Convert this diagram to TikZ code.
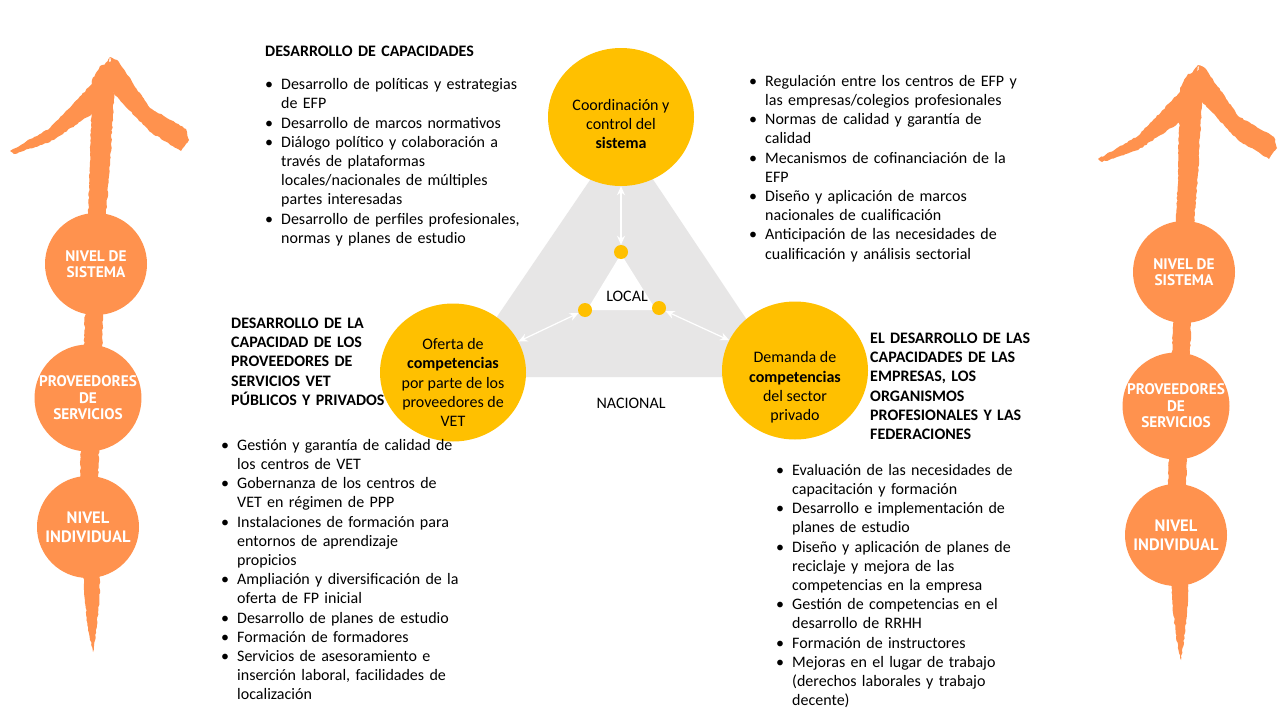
\documentclass[tikz,border=0pt]{standalone}
\usepackage{fontspec}
\setmainfont{Carlito}
\newfontfamily\levelfont{PT Sans}
\usetikzlibrary{arrows.meta,positioning,shapes.geometric,decorations.pathmorphing}
\definecolor{Gold}   {RGB}{255,192,  0}
\definecolor{Brush}  {RGB}{255,146, 78}
\definecolor{TriGray}{RGB}{231,230,230}
\newcommand{\bodysize}{\fontsize{16}{19.2}\selectfont}
\newcommand{\nl}{\hfil\break}
\newcommand{\bitem}[1]{\par\hangindent=16pt\hangafter=1\noindent
  \makebox[16pt][l]{\textbullet}\strut#1\strut\par}
\tikzset{
  actor/.style={ellipse, fill=Gold, minimum width=146pt, minimum height=138pt,
                inner sep=0pt},
  actortext/.style={align=center, inner sep=0pt, font=\bodysize},
  hub/.style={circle, fill=Gold, minimum size=14pt, inner sep=0pt},
  heading/.style={anchor=north west, inner sep=0pt, text width=#1,
                  align=left, font=\bodysize\bfseries},
  bullets/.style={anchor=north west, inner sep=0pt, text width=#1,
                  align=left, font=\bodysize},
  level/.style={circle, fill=Brush, minimum size=102pt, inner sep=0pt,
                text=white, align=center,
                font=\levelfont\bfseries\fontsize{15.3}{16.5}\selectfont},
  link/.style={{Stealth[length=9pt,width=8pt]}-{Stealth[length=9pt,width=8pt]},
               white, line width=1.2pt},
  brush/.style={fill=Brush, decorate,
                decoration={random steps, segment length=2.5pt, amplitude=0.6pt}}
}

\begin{document}
\begin{tikzpicture}[x=1pt, y=-1pt]
  \pgfmathsetseed{7}
  \useasboundingbox[fill=white] (0,0) rectangle (1280,720);

  % orange brush arrows with the three levels
  \foreach \dx/\dy/\side in {0/0/L, 1088/8/R} {
    \begin{scope}[shift={(\dx,\dy)}]
      \fill[brush] (100,66) -- (116,60) -- (110,165) -- (106,215) -- (102,350)
        -- (98,480) -- (100,590) -- (97,625) -- (93,652) -- (88,630)
        -- (84,590) -- (80,480) -- (84,350) -- (88,215) -- (90,165)
        -- (92,80) -- cycle;
      \fill[brush] (110,57) -- (90,86) -- (50,128) -- (10,151) -- (14,154)
        -- (50,142) -- (92,114) -- (104,96) -- cycle;
      \fill[brush] (110,57) -- (117,60) -- (150,108) -- (186,129) -- (189,140)
        -- (181,151) -- (150,132) -- (114,94) -- cycle;
      \node[level] (sys\side) at (96,264) {NIVEL DE\\SISTEMA};
      \node[level] (prov\side) at (88,398) {PROVEEDORES\\DE\\SERVICIOS};
      \node[level, font=\levelfont\bfseries\fontsize{16.5}{19}\selectfont]
        (ind\side) at (88,527) {NIVEL\\INDIVIDUAL};
    \end{scope}
  }

  % triangle
  \fill[TriGray] (622,133) -- (785,377) -- (456,377) -- cycle;
  \fill[white] (621,254) -- (656,310) -- (587,310) -- cycle;

  \node[actor] (cSys) at (621,117) {};
  \node[actor] (cOff) at (453,372.5) {};
  \node[actor] (cDem) at (795,370.5) {};
  \node[actortext] (tSys) at ([yshift=-7pt]cSys)
    {Coordinación y\\control del\\\textbf{sistema}};
  \node[actortext] (tOff) at ([yshift=-10pt]cOff)
    {Oferta de\\\textbf{competencias}\\por parte de los\\proveedores de\\VET};
  \node[actortext] (tDem) at ([yshift=-17pt]cDem)
    {Demanda de\\\textbf{competencias}\\del sector\\privado};

  \node[hub] (dT) at (621,252) {};
  \node[hub] (dL) at (585,310) {};
  \node[hub] (dR) at (659,308) {};
  \foreach \a/\b in {cSys/dT, dL/cOff, dR/cDem}
    \draw[link] (\a) -- (\b);

  \node[font=\bodysize] (local) at (627,296) {LOCAL};
  \node[font=\bodysize] (nacional) at (631,403) {NACIONAL};

  % system level
  \node[heading=260pt] (hCap) at (265,42.8) {\strut DESARROLLO DE CAPACIDADES};
  \node[bullets=270pt, below=7.8pt of hCap.south west, anchor=north west] (lCap) {%
    \bitem{Desarrollo de políticas y estrategias\nl de EFP}
    \bitem{Desarrollo de marcos normativos}
    \bitem{Diálogo político y colaboración a\nl través de plataformas\nl locales/nacionales de múltiples\nl partes interesadas}
    \bitem{Desarrollo de perfiles profesionales,\nl normas y planes de estudio}};
  \node[bullets=280pt] (lSys) at (749,66.8) {%
    \bitem{Regulación entre los centros de EFP y\nl las empresas/colegios profesionales}
    \bitem{Normas de calidad y garantía de\nl calidad}
    \bitem{Mecanismos de cofinanciación de la\nl EFP}
    \bitem{Diseño y aplicación de marcos\nl nacionales de cualificación}
    \bitem{Anticipación de las necesidades de\nl cualificación y análisis sectorial}};

  % providers
  \node[heading=200pt] (hProv) at (231,314.8)
    {\strut DESARROLLO DE LA\\CAPACIDAD DE LOS\\PROVEEDORES DE\\SERVICIOS VET\\PÚBLICOS Y PRIVADOS};
  \node[bullets=260pt] (lProv) at (221,430.8) {%
    \bitem{Gestión y garantía de calidad de\nl los centros de VET}
    \bitem{Gobernanza de los centros de\nl VET en régimen de PPP}
    \bitem{Instalaciones de formación para\nl entornos de aprendizaje\nl propicios}
    \bitem{Ampliación y diversificación de la\nl oferta de FP inicial}
    \bitem{Desarrollo de planes de estudio}
    \bitem{Formación de formadores}
    \bitem{Servicios de asesoramiento e\nl inserción laboral, facilidades de\nl localización}};

  % private sector
  \node[heading=200pt] (hEmp) at (870,329.8)
    {\strut EL DESARROLLO DE LAS\\CAPACIDADES DE LAS\\EMPRESAS, LOS\\ORGANISMOS\\PROFESIONALES Y LAS\\FEDERACIONES};
  \node[bullets=260pt] (lEmp) at (776,455.8) {%
    \bitem{Evaluación de las necesidades de\nl capacitación y formación}
    \bitem{Desarrollo e implementación de\nl planes de estudio}
    \bitem{Diseño y aplicación de planes de\nl reciclaje y mejora de las\nl competencias en la empresa}
    \bitem{Gestión de competencias en el\nl desarrollo de RRHH}
    \bitem{Formación de instructores}
    \bitem{Mejoras en el lugar de trabajo\nl (derechos laborales y trabajo\nl decente)}};
\end{tikzpicture}
\end{document}
